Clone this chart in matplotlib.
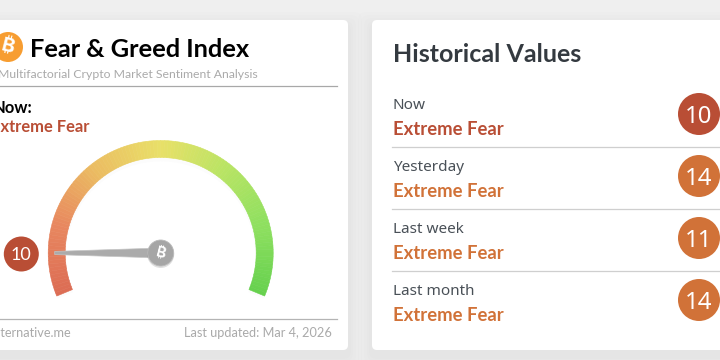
import numpy as np
import matplotlib
matplotlib.use('Agg')
import matplotlib.pyplot as plt
from matplotlib.colors import LinearSegmentedColormap
from matplotlib.patches import Circle, FancyBboxPatch, Polygon, Wedge

# --- Data ---
TITLE = 'Fear & Greed Index'
SUBTITLE = 'Multifactorial Crypto Market Sentiment Analysis'
SOURCE = 'alternative.me'
UPDATED = 'Last updated: Mar 4, 2026'
now_value = 10
now_label = 'Extreme Fear'
periods = ['Now', 'Yesterday', 'Last week', 'Last month']
values = [10, 14, 11, 14]
labels = ['Extreme Fear', 'Extreme Fear', 'Extreme Fear', 'Extreme Fear']
row_colors = ['#b94e35', '#d17238', '#d17238', '#d17238']
gauge_stops = ['#dc6c54', '#e8875f', '#ebbd62', '#e9e068', '#b9e464', '#8fe060', '#66d14e']

# --- Layout (pixels, origin top left) ---
PX = 0.72  # px to pt at dpi 100
LEFT_FONT = 'Lato'
RIGHT_FONT = 'Noto Sans'
BOLD_FONT = 'Lato'
SYMBOL_FONTS = ['Inter', 'Roboto', 'Noto Sans', 'Open Sans', 'Lato', 'Liberation Sans', 'DejaVu Sans']
CX, CY = 160.7, 253
R_OUT, R_IN = 112.5, 95.5
BG = '#efefef'

fig = plt.figure(figsize=(7.2, 3.6), dpi=100, facecolor=BG)
ax = fig.add_axes([0, 0, 1, 1])
ax.set_xlim(0, 720)
ax.set_ylim(360, 0)
ax.axis('off')


def gauge_angle(v):
    return 202.5 - 2.25 * v


def card(x0, y0, x1, y1):
    # soft shadow from stacked translucent boxes
    for grow in [14, 11, 8, 5, 3]:
        ax.add_patch(FancyBboxPatch((x0 - grow, y0 - grow + 6), x1 - x0 + 2 * grow, y1 - y0 + 2 * grow,
                                    boxstyle='round,pad=0,rounding_size=8', fc='black', ec='none', alpha=0.006))
    ax.add_patch(FancyBboxPatch((x0, y0), x1 - x0, y1 - y0, boxstyle='round,pad=0,rounding_size=5',
                                fc='white', ec='none'))


def text(x, y, s, size, color, font, weight='normal', ha='left', va='baseline'):
    ax.text(x, y, s, fontsize=size * PX, color=color, family=font, fontweight=weight, ha=ha, va=va)


def bitcoin(x, y, size, color):
    ax.text(x, y, '\u20bf', fontsize=size * PX, color=color, family=SYMBOL_FONTS, fontweight='bold',
            ha='center', va='center', rotation=-14)


card(-30, 20, 348, 350)
card(372, 20, 760, 350)

# left card header
ax.add_patch(Circle((8, 47), 15, fc='#f7931a', ec='none', alpha=0.9))
bitcoin(8, 47, 20, 'white')
text(30.5, 57, TITLE, 25.4, 'black', LEFT_FONT, 'bold')
text(-2, 78, SUBTITLE, 12.3, '#aaaaaa', LEFT_FONT)
ax.plot([0, 337], [86, 86], color='#a8a8a8', lw=0.9)
text(-7, 113, 'Now:', 16.5, 'black', LEFT_FONT, 'bold')
text(-9, 132, now_label, 16.5, row_colors[0], LEFT_FONT, 'bold')

# gauge
cmap = LinearSegmentedColormap.from_list('gauge', gauge_stops)
edges = np.linspace(0, 100, 121)
for lo, hi in zip(edges[:-1], edges[1:]):
    a1, a2 = gauge_angle(lo), gauge_angle(hi)
    # faint shadow under the band
    ax.add_patch(Wedge((CX, CY + 3), R_OUT - 1, -a1, -a2, width=R_OUT - R_IN, fc='black', ec='none', alpha=0.012))
for lo, hi in zip(edges[:-1], edges[1:]):
    a1, a2 = gauge_angle(lo), gauge_angle(hi)
    c = cmap((lo + hi) / 200)
    ax.add_patch(Wedge((CX, CY), R_OUT, -a1, -a2, width=R_OUT - R_IN, fc=c, ec=c, lw=0.4))

# needle
a = np.radians(gauge_angle(now_value))
d = np.array([np.cos(a), -np.sin(a)])
n = np.array([-d[1], d[0]])
c0 = np.array([CX, CY])
tip = c0 + d * 106
ax.add_patch(Polygon([tip + n * 1.6, tip - n * 1.6, c0 - n * 5, c0 + n * 5], fc='#ababab', ec='#c4c4c4', lw=0.5))
ax.add_patch(Circle((CX, CY + 1.5), 13.5, fc='black', ec='none', alpha=0.12))
ax.add_patch(Circle((CX, CY), 13, fc='#a6a6a6', ec='#bbbbbb', lw=0.6))
bitcoin(CX, CY, 15, 'white')

# value badge
ax.add_patch(Circle((21.3, 254), 17.5, fc=row_colors[0], ec='none'))
text(21.3, 254, str(now_value), 18, 'white', LEFT_FONT, ha='center', va='center_baseline')

# footer
ax.plot([0, 337], [319, 319], color='#b4b4b4', lw=0.9)
text(-8, 337, SOURCE, 12.8, '#aaaaaa', LEFT_FONT)
text(332, 337, UPDATED, 12.8, '#aaaaaa', LEFT_FONT, ha='right')

# right card
text(393, 62, 'Historical Values', 25, '#343a40', BOLD_FONT, 'bold')
for i, (p, v, lab, col) in enumerate(zip(periods, values, labels, row_colors)):
    dy = 62 * i
    text(393, 109 + dy, p, 15.3, '#495057', RIGHT_FONT)
    text(393, 135 + dy, lab, 18.5, col, BOLD_FONT, 'bold')
    ax.add_patch(Circle((699, 114 + dy), 21, fc=col, ec='none'))
    text(699, 114 + dy, str(v), 24, 'white', RIGHT_FONT, ha='center', va='center_baseline')
    if i < len(periods) - 1:
        ax.plot([392, 720], [147 + dy, 147 + dy], color='#cfcfcf', lw=0.9)

fig.savefig('out.png', dpi=100, facecolor=BG)
